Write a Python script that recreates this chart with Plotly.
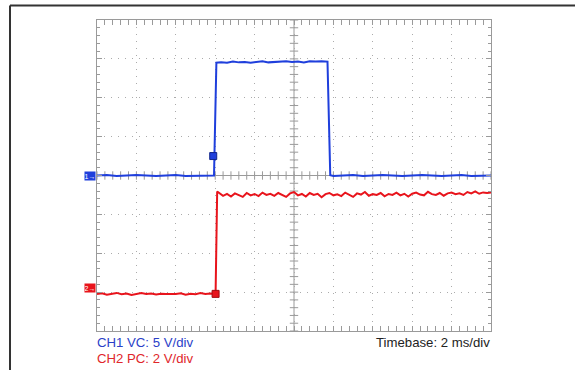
import numpy as np
import plotly.graph_objects as go

# ---------------- data (read from the scope capture) ----------------
# time in ms, voltages in V
blue_t = [0.0, 0.5, 1.0, 1.5, 2.0, 2.5, 3.0, 3.5, 4.0, 4.5, 5.0, 5.5, 5.94,
          6.06, 6.3, 6.6, 6.9, 7.2, 7.5, 7.8, 8.1, 8.4, 8.7, 9.0, 9.3, 9.6,
          9.9, 10.2, 10.5, 10.8, 11.1, 11.4, 11.7,
          11.84, 12.0, 12.5, 13.0, 13.5, 14.0, 14.5, 15.0, 15.5, 16.0, 16.5,
          17.0, 17.5, 18.0, 18.5, 19.0, 19.5, 20.0]
blue_v = [0.0, 0.05, -0.05, 0.0, 0.05, 0.0, -0.05, 0.0, 0.05, -0.05, 0.0, 0.05, 0.0,
          14.5, 14.55, 14.5, 14.65, 14.55, 14.6, 14.5, 14.6, 14.7, 14.55, 14.6,
          14.65, 14.7, 14.6, 14.65, 14.55, 14.7, 14.65, 14.7, 14.65,
          0.05, -0.05, 0.0, 0.05, -0.05, 0.0, 0.05, 0.0, -0.05, 0.0, 0.05,
          0.0, -0.05, 0.0, 0.05, -0.05, 0.0, 0.0]

red_t = [0.0, 0.25, 0.5, 0.75, 1.0, 1.25, 1.5, 1.75, 2.0, 2.25, 2.5, 2.75, 3.0,
         3.25, 3.5, 3.75, 4.0, 4.25, 4.5, 4.75, 5.0, 5.25, 5.5, 5.75, 6.02,
         6.1, 6.2, 6.4, 6.6, 6.8, 7.0, 7.2, 7.4, 7.6, 7.8, 8.0, 8.2, 8.4, 8.6,
         8.8, 9.0, 9.2, 9.4, 9.6, 9.8, 10.0, 10.2, 10.4, 10.6, 10.8, 11.0, 11.2,
         11.4, 11.6, 11.8, 12.0, 12.2, 12.4, 12.6, 12.8, 13.0, 13.2, 13.4, 13.6,
         13.8, 14.0, 14.2, 14.4, 14.6, 14.8, 15.0, 15.2, 15.4, 15.6, 15.8, 16.0,
         16.2, 16.4, 16.6, 16.8, 17.0, 17.2, 17.4, 17.6, 17.8, 18.0, 18.2, 18.4,
         18.6, 18.8, 19.0, 19.2, 19.4, 19.6, 19.8, 20.0]
red_v = [-0.30, -0.26, -0.33, -0.28, -0.24, -0.31, -0.27, -0.35, -0.29, -0.25,
         -0.30, -0.27, -0.32, -0.28, -0.30, -0.30, -0.30, -0.26, -0.33, -0.28,
         -0.31, -0.25, -0.30, -0.27, -0.29,
         4.98, 4.90, 4.75, 4.85, 4.72, 4.88, 4.80, 4.70, 4.90, 4.78, 4.85, 4.74,
         4.92, 4.80, 4.86, 4.75, 4.90, 4.82, 4.70, 4.88, 4.95, 4.78, 4.85, 4.72,
         4.90, 4.80, 4.86, 4.68, 4.84, 4.90, 4.78, 4.83, 4.74, 4.92, 4.80, 4.70,
         4.88, 4.82, 4.95, 4.76, 4.84, 4.80, 4.90, 4.73, 4.85, 4.80, 4.92, 4.78,
         4.86, 4.72, 4.86, 4.92, 4.82, 4.78, 4.96, 4.84, 4.80, 4.90, 4.76, 4.88,
         4.92, 4.84, 4.88, 4.80, 4.95, 4.88, 4.98, 4.86, 4.93, 4.90, 4.92]

ch1_vdiv = 5.0      # V/div
ch2_vdiv = 2.0      # V/div
ch2_offset_div = -2.9
time_range = [0, 20]          # 2 ms/div x 10 div
ch1_trig = (5.9, 2.5)         # trigger marker (ms, V)
ch2_trig = (6.02, -0.29)

ch1_label = "CH1 VC: 5 V/div"
ch2_label = "CH2 PC: 2 V/div"
timebase_label = "Timebase: 2 ms/div"

BLUE = "#1f3fdc"
RED = "#e8141c"
GRID = "#9a9a9a"

# ---------------- figure ----------------
W, H = 575, 370
L, R, T, B = 97, 84, 20, 39
PW, PH = W - L - R, H - T - B

fig = go.Figure()

# centre-axis tick marks
cx = (time_range[0] + time_range[1]) / 2
xt = np.arange(time_range[0], time_range[1] + 1e-9, 0.4)
yt = np.arange(-4 * ch1_vdiv, 4 * ch1_vdiv + 1e-9, ch1_vdiv / 5)
fig.add_trace(go.Scatter(x=xt, y=[0] * len(xt), mode="markers", hoverinfo="skip",
                         marker=dict(symbol="line-ns", size=6, line=dict(color=GRID, width=1))))
fig.add_trace(go.Scatter(x=[cx] * len(yt), y=yt, mode="markers", hoverinfo="skip",
                         marker=dict(symbol="line-ew", size=6, line=dict(color=GRID, width=1))))

fig.add_trace(go.Scatter(x=red_t, y=red_v, yaxis="y2", mode="lines",
                         line=dict(color=RED, width=2), hoverinfo="skip"))
fig.add_trace(go.Scatter(x=blue_t, y=blue_v, mode="lines",
                         line=dict(color=BLUE, width=2), hoverinfo="skip"))

# trigger markers
fig.add_trace(go.Scatter(x=[ch1_trig[0]], y=[ch1_trig[1]], mode="markers", hoverinfo="skip",
                         marker=dict(symbol="square", size=7, color=BLUE,
                                     line=dict(color="#10248a", width=1))))
fig.add_trace(go.Scatter(x=[ch2_trig[0]], y=[ch2_trig[1]], yaxis="y2", mode="markers", hoverinfo="skip",
                         marker=dict(symbol="square", size=7, color=RED,
                                     line=dict(color="#a00a10", width=1))))

axis_common = dict(showticklabels=False, ticks="inside", ticklen=5, tickcolor=GRID,
                   showline=True, linecolor=GRID, linewidth=1, mirror="allticks",
                   showgrid=True, gridcolor="#ababab", griddash="1px,6px", gridwidth=1,
                   fixedrange=True)

fig.update_layout(
    width=W, height=H, margin=dict(l=L, r=R, t=T, b=B),
    paper_bgcolor="white", plot_bgcolor="white", showlegend=False,
    xaxis=dict(range=time_range, dtick=2, tick0=0, zeroline=False,
               minor=dict(dtick=0.4, ticks="inside", ticklen=3, tickcolor=GRID, showgrid=False),
               **axis_common),
    yaxis=dict(range=[-4 * ch1_vdiv, 4 * ch1_vdiv], dtick=ch1_vdiv, tick0=0,
               zeroline=True, zerolinecolor=GRID, zerolinewidth=1,
               minor=dict(dtick=ch1_vdiv / 5, ticks="inside", ticklen=3, tickcolor=GRID, showgrid=False),
               **axis_common),
    yaxis2=dict(overlaying="y", visible=False, fixedrange=True,
                range=[(-4 - ch2_offset_div) * ch2_vdiv, (4 - ch2_offset_div) * ch2_vdiv]),
    font=dict(family="Liberation Sans, Arial, sans-serif"),
)

# vertical centre line
fig.add_shape(type="line", xref="x", yref="paper", x0=cx, x1=cx, y0=0, y1=1,
              line=dict(color=GRID, width=1), layer="below")

# outer frame (top and left edges)
def px_x(p):
    return (p - L) / PW

def px_y(p):
    return (T + PH - p) / PH

fig.add_shape(type="line", xref="paper", yref="paper", x0=px_x(10), x1=px_x(576),
              y0=px_y(5.5), y1=px_y(5.5), line=dict(color="#333333", width=2))
fig.add_shape(type="line", xref="paper", yref="paper", x0=px_x(10), x1=px_x(10),
              y0=px_y(5.5), y1=px_y(372), line=dict(color="#333333", width=2))

# channel ground markers
fig.add_annotation(x=0, xref="paper", y=0, yref="y", xanchor="right", yanchor="middle",
                   text="1→", showarrow=False, bgcolor=BLUE, borderpad=0, width=10, height=8,
                   font=dict(size=7, color="white"), xshift=-1)
fig.add_annotation(x=0, xref="paper", y=0, yref="y2", xanchor="right", yanchor="middle",
                   text="2→", showarrow=False, bgcolor=RED, borderpad=0, width=10, height=8,
                   font=dict(size=7, color="white"), xshift=-1)

# labels under the screen
fig.add_annotation(x=0, xref="paper", y=0, yref="paper", xanchor="left", yanchor="middle",
                   text=ch1_label, showarrow=False, yshift=-11, xshift=-2,
                   font=dict(size=13.2, color="#2b3fc8"))
fig.add_annotation(x=0, xref="paper", y=0, yref="paper", xanchor="left", yanchor="middle",
                   text=ch2_label, showarrow=False, yshift=-27, xshift=-2,
                   font=dict(size=13.2, color="#e0262b"))
fig.add_annotation(x=1, xref="paper", y=0, yref="paper", xanchor="right", yanchor="middle",
                   text=timebase_label, showarrow=False, yshift=-11, xshift=1,
                   font=dict(size=13.2, color="#222222"))

fig.write_html("out.html", config={"displayModeBar": False},
               post_script="document.body.style.margin='0';document.body.style.overflow='hidden';")
